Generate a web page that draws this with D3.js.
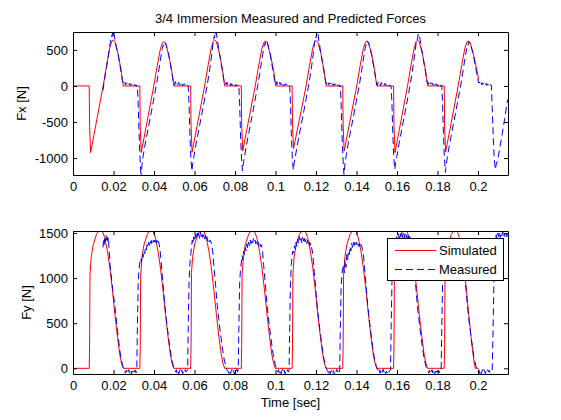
<!DOCTYPE html>
<html>
<head>
<meta charset="utf-8">
<script src="https://cdn.jsdelivr.net/npm/d3@7"></script>
<style>
body { margin: 0; background: #fff; }
text { font-family: "Liberation Sans", Arial, Helvetica, sans-serif; }
</style>
</head>
<body>
<div class="fig"></div>
<script>
// tick values and legend labels
var timeTicks = [0, 0.02, 0.04, 0.06, 0.08, 0.1, 0.12, 0.14, 0.16, 0.18, 0.2]
var fxTicks = [-1000, -500, 0, 500]
var fyTicks = [0, 500, 1000, 1500]
var seriesNames = ["Simulated", "Measured"]

// [time (s), force (N)]
var fxSimulated = [
  [0,0],[0.0080,0],[0.0082,-560],[0.0087,-925],[0.0149,0],[0.0166,285],[0.0182,535],[0.0192,622],[0.0199,639],[0.0207,615],[0.0223,440],[0.0237,225],[0.0248,0],
  [0.0330,0],[0.0332,-560],[0.0337,-925],[0.0399,0],[0.0416,280],[0.0432,520],[0.0442,600],[0.0449,616],[0.0457,594],[0.0473,428],[0.0487,218],[0.0498,0],
  [0.0581,0],[0.0583,-555],[0.0588,-920],[0.0650,0],[0.0667,285],[0.0683,535],[0.0693,622],[0.0700,640],[0.0708,616],[0.0724,440],[0.0738,225],[0.0749,0],
  [0.0831,0],[0.0833,-545],[0.0838,-903],[0.0900,0],[0.0917,282],[0.0933,522],[0.0943,606],[0.0951,625],[0.0959,602],[0.0975,432],[0.0990,222],[0.1001,0],
  [0.1082,0],[0.1084,-530],[0.1089,-870],[0.1151,0],[0.1168,285],[0.1184,528],[0.1194,612],[0.1201,630],[0.1209,608],[0.1225,436],[0.1239,222],[0.1250,0],
  [0.1332,0],[0.1334,-545],[0.1339,-903],[0.1401,0],[0.1418,282],[0.1434,522],[0.1444,607],[0.1451,625],[0.1459,602],[0.1475,432],[0.1489,220],[0.1500,0],
  [0.1583,0],[0.1585,-560],[0.1590,-925],[0.1652,0],[0.1669,285],[0.1685,530],[0.1695,617],[0.1702,635],[0.1710,611],[0.1726,438],[0.1740,224],[0.1751,0],
  [0.1833,0],[0.1835,-555],[0.1840,-917],[0.1902,0],[0.1919,282],[0.1935,522],[0.1945,607],[0.1953,625],[0.1961,602],[0.1978,430],[0.1992,250],[0.2003,90]
]

var fxMeasured = [
  [0.0148,-60],[0.0153,40],[0.0159,150],[0.0166,270],[0.0173,400],[0.0179,510],[0.0184,600],[0.0188,660],[0.0191,700],[0.0193,680],[0.0195,735],[0.0197,715],[0.0199,750],[0.0201,712],[0.0204,690],[0.0209,615],[0.0215,525],[0.0223,430],[0.0231,300],[0.0238,185],[0.0243,90],
  [0.0247,55],[0.0251,20],[0.0255,50],[0.0259,15],[0.0263,45],[0.0267,25],[0.0271,40],[0.0275,10],[0.0279,35],[0.0283,5],[0.0287,30],[0.0291,15],[0.0295,25],[0.0299,-5],[0.0303,20],[0.0307,0],[0.0311,15],[0.0315,-10],[0.0318,0],
  [0.0322,-250],[0.0326,-650],[0.0331,-1000],[0.0336,-1290],[0.0340,-1110],[0.0346,-980],[0.0353,-860],[0.0363,-710],[0.0374,-550],[0.0386,-375],[0.0398,-195],[0.0411,0],[0.0421,170],[0.0429,320],[0.0436,440],[0.0441,520],[0.0445,565],[0.0448,555],[0.0451,605],[0.0454,585],[0.0457,598],[0.0461,560],[0.0467,500],[0.0473,425],[0.0481,300],[0.0488,190],[0.0494,80],
  [0.0497,45],[0.0501,10],[0.0505,60],[0.0509,25],[0.0513,35],[0.0517,5],[0.0521,50],[0.0525,20],[0.0529,30],[0.0533,10],[0.0537,40],[0.0541,0],[0.0545,25],[0.0549,15],[0.0553,30],[0.0557,-5],[0.0561,10],[0.0565,5],[0.0569,-5],
  [0.0573,-250],[0.0577,-650],[0.0582,-1000],[0.0587,-1180],[0.0591,-1080],[0.0597,-980],[0.0604,-860],[0.0614,-710],[0.0625,-550],[0.0637,-375],[0.0649,-195],[0.0662,0],[0.0672,170],[0.0680,330],[0.0687,480],[0.0692,610],[0.0696,680],[0.0699,665],[0.0702,745],[0.0705,720],[0.0708,738],[0.0712,650],[0.0717,560],[0.0724,440],[0.0732,300],[0.0739,190],[0.0745,80],
  [0.0748,55],[0.0752,20],[0.0756,50],[0.0760,15],[0.0764,45],[0.0768,25],[0.0772,40],[0.0776,10],[0.0780,35],[0.0784,5],[0.0788,30],[0.0792,15],[0.0796,25],[0.0800,-5],[0.0804,20],[0.0808,0],[0.0812,15],[0.0816,-10],[0.0819,0],
  [0.0823,-250],[0.0827,-650],[0.0832,-1000],[0.0837,-1180],[0.0841,-1080],[0.0847,-980],[0.0854,-860],[0.0864,-710],[0.0875,-550],[0.0887,-375],[0.0899,-195],[0.0912,0],[0.0922,170],[0.0930,320],[0.0937,440],[0.0942,530],[0.0946,585],[0.0949,575],[0.0952,625],[0.0955,605],[0.0958,615],[0.0962,575],[0.0968,505],[0.0974,432],[0.0982,300],[0.0989,190],[0.0995,80],
  [0.0998,45],[0.1002,10],[0.1006,60],[0.1010,25],[0.1014,35],[0.1018,5],[0.1022,50],[0.1026,20],[0.1030,30],[0.1034,10],[0.1038,40],[0.1042,0],[0.1046,25],[0.1050,15],[0.1054,30],[0.1058,-5],[0.1062,10],[0.1066,5],[0.1070,-5],
  [0.1074,-250],[0.1078,-650],[0.1083,-1000],[0.1088,-1167],[0.1092,-1070],[0.1098,-980],[0.1105,-860],[0.1115,-710],[0.1126,-550],[0.1138,-375],[0.1150,-195],[0.1163,0],[0.1173,170],[0.1181,330],[0.1188,480],[0.1193,610],[0.1197,680],[0.1200,665],[0.1203,740],[0.1206,715],[0.1209,735],[0.1213,650],[0.1218,560],[0.1225,440],[0.1233,300],[0.1240,190],[0.1246,80],
  [0.1249,55],[0.1253,20],[0.1257,50],[0.1261,15],[0.1265,45],[0.1269,25],[0.1273,40],[0.1277,10],[0.1281,35],[0.1285,5],[0.1289,30],[0.1293,15],[0.1297,25],[0.1301,-5],[0.1305,20],[0.1309,0],[0.1313,15],[0.1317,-10],[0.1320,0],
  [0.1324,-250],[0.1328,-650],[0.1333,-1000],[0.1338,-1230],[0.1342,-1100],[0.1348,-980],[0.1355,-860],[0.1365,-710],[0.1376,-550],[0.1388,-375],[0.1400,-195],[0.1413,0],[0.1423,170],[0.1431,320],[0.1438,440],[0.1443,525],[0.1447,580],[0.1450,570],[0.1453,620],[0.1456,600],[0.1459,610],[0.1463,565],[0.1469,500],[0.1475,430],[0.1483,300],[0.1490,190],[0.1496,80],
  [0.1499,45],[0.1503,10],[0.1507,60],[0.1511,25],[0.1515,35],[0.1519,5],[0.1523,50],[0.1527,20],[0.1531,30],[0.1535,10],[0.1539,40],[0.1543,0],[0.1547,25],[0.1551,15],[0.1555,30],[0.1559,-5],[0.1563,10],[0.1567,5],[0.1571,-5],
  [0.1575,-250],[0.1579,-650],[0.1584,-1000],[0.1589,-1160],[0.1593,-1060],[0.1599,-980],[0.1606,-860],[0.1616,-710],[0.1627,-550],[0.1639,-375],[0.1651,-195],[0.1664,0],[0.1674,170],[0.1682,330],[0.1689,470],[0.1694,590],[0.1698,650],[0.1701,640],[0.1704,715],[0.1707,690],[0.1710,705],[0.1714,640],[0.1719,555],[0.1726,438],[0.1734,300],[0.1741,190],[0.1747,80],
  [0.1750,55],[0.1754,20],[0.1758,50],[0.1762,15],[0.1766,45],[0.1770,25],[0.1774,40],[0.1778,10],[0.1782,35],[0.1786,5],[0.1790,30],[0.1794,15],[0.1798,25],[0.1802,-5],[0.1806,20],[0.1810,0],[0.1814,15],[0.1818,-10],[0.1821,0],
  [0.1825,-250],[0.1829,-650],[0.1834,-1000],[0.1839,-1200],[0.1843,-1090],[0.1849,-980],[0.1856,-860],[0.1866,-710],[0.1877,-550],[0.1889,-375],[0.1901,-195],[0.1914,0],[0.1924,170],[0.1932,320],[0.1939,440],[0.1944,520],[0.1948,575],[0.1951,565],[0.1954,615],[0.1957,595],[0.1960,605],[0.1964,565],[0.1970,505],[0.1977,430],[0.1985,305],[0.1993,190],[0.1999,90],[0.2004,40],
  [0.2007,55],[0.2011,20],[0.2015,50],[0.2019,15],[0.2023,45],[0.2027,25],[0.2031,40],[0.2035,10],[0.2039,35],[0.2043,5],[0.2047,30],[0.2051,15],[0.2055,25],[0.2059,-5],[0.2063,20],[0.2066,0],
  [0.2070,-300],[0.2075,-700],[0.2080,-1000],[0.2085,-1160],[0.2090,-1090],[0.2098,-1018],[0.2106,-880],[0.2115,-741],[0.2123,-600],[0.2131,-463],[0.2139,-320],[0.2146,-190]
]

var fySimulated = [
  [0,0],[0.0080,0],[0.0082,260],[0.0084,1040],[0.0090,1230],[0.0100,1373],[0.0116,1484],[0.0126,1522],[0.0136,1535],[0.0146,1515],[0.0157,1447],[0.0170,1300],[0.0182,1114],[0.0195,860],[0.0207,596],[0.0220,340],[0.0231,152],[0.0240,50],[0.0248,0],
  [0.0330,0],[0.0332,250],[0.0334,1003],[0.0340,1220],[0.0350,1365],[0.0366,1480],[0.0376,1520],[0.0386,1533],[0.0396,1513],[0.0407,1445],[0.0420,1298],[0.0432,1112],[0.0445,858],[0.0457,594],[0.0470,338],[0.0481,150],[0.0490,48],[0.0498,0],
  [0.0581,0],[0.0583,260],[0.0585,1060],[0.0591,1240],[0.0601,1378],[0.0617,1486],[0.0627,1523],[0.0637,1536],[0.0647,1516],[0.0658,1448],[0.0671,1301],[0.0683,1115],[0.0696,861],[0.0708,597],[0.0721,341],[0.0732,153],[0.0741,50],[0.0749,0],
  [0.0831,0],[0.0833,255],[0.0835,1040],[0.0841,1230],[0.0851,1372],[0.0867,1483],[0.0877,1521],[0.0887,1534],[0.0897,1514],[0.0908,1446],[0.0921,1299],[0.0933,1113],[0.0946,859],[0.0958,595],[0.0971,339],[0.0982,151],[0.0991,49],[0.0999,0],
  [0.1082,0],[0.1084,260],[0.1086,1050],[0.1092,1235],[0.1102,1375],[0.1118,1485],[0.1128,1522],[0.1138,1535],[0.1148,1515],[0.1159,1447],[0.1172,1300],[0.1184,1114],[0.1197,860],[0.1209,596],[0.1222,340],[0.1233,152],[0.1242,50],[0.1250,0],
  [0.1332,0],[0.1334,255],[0.1336,1020],[0.1342,1225],[0.1352,1370],[0.1368,1482],[0.1378,1521],[0.1388,1534],[0.1398,1514],[0.1409,1446],[0.1422,1299],[0.1434,1113],[0.1447,859],[0.1459,595],[0.1472,339],[0.1483,151],[0.1492,49],[0.1500,0],
  [0.1583,0],[0.1585,260],[0.1587,1045],[0.1593,1232],[0.1603,1374],[0.1619,1484],[0.1629,1522],[0.1639,1535],[0.1649,1515],[0.1660,1447],[0.1673,1300],[0.1685,1114],[0.1698,860],[0.1710,596],[0.1723,340],[0.1734,152],[0.1743,50],[0.1751,0],
  [0.1833,0],[0.1835,260],[0.1837,1040],[0.1843,1230],[0.1853,1373],[0.1868,1484],[0.1878,1522],[0.1888,1535],[0.1898,1515],[0.1908,1447],[0.1920,1300],[0.1931,1114],[0.1943,860],[0.1954,596],[0.1966,340],[0.1976,152],[0.1983,30],[0.1987,0],[0.2003,0]
]

var fyMeasured = [
  [0.0148,1340],[0.0151,1420],[0.0154,1370],[0.0157,1460],[0.0160,1400],[0.0163,1480],[0.0166,1420],[0.0169,1470],[0.0172,1410],[0.0175,1450],[0.0178,1330],[0.0183,1150],[0.0190,1000],[0.0198,840],[0.0207,690],[0.0215,520],[0.0223,350],[0.0231,200],[0.0239,95],[0.0245,30],[0.0250,-10],
  [0.0255,-30],[0.0259,-55],[0.0263,-20],[0.0267,-60],[0.0271,-35],[0.0275,-15],[0.0279,-50],[0.0283,-25],[0.0287,-65],[0.0291,-30],[0.0295,-45],[0.0299,-10],[0.0303,-40],[0.0307,-20],[0.0311,-50],
  [0.0315,-20],[0.0318,450],[0.0322,950],[0.0326,1100],[0.0330,1170],
  [0.0334,1220],[0.0338,1180],[0.0342,1270],[0.0346,1230],[0.0350,1300],[0.0354,1270],[0.0358,1340],[0.0362,1310],[0.0366,1370],[0.0370,1340],[0.0374,1400],[0.0378,1360],[0.0382,1410],[0.0386,1380],[0.0390,1430],[0.0394,1390],[0.0398,1420],[0.0402,1400],[0.0406,1440],[0.0410,1390],[0.0414,1420],[0.0418,1380],[0.0422,1410],[0.0426,1370],
  [0.0432,1270],[0.0438,1100],[0.0442,1003],[0.0447,870],[0.0453,707],[0.0461,540],[0.0470,374],[0.0478,240],[0.0486,115],[0.0496,20],[0.0502,-20],
  [0.0506,-40],[0.0510,-15],[0.0514,-55],[0.0518,-25],[0.0522,-60],[0.0526,-30],[0.0530,-10],[0.0534,-45],[0.0538,-20],[0.0542,-60],[0.0546,-35],[0.0550,-50],[0.0554,-15],[0.0558,-40],[0.0562,-25],
  [0.0566,-20],[0.0569,450],[0.0573,950],[0.0577,1150],[0.0581,1250],
  [0.0585,1340],[0.0589,1420],[0.0593,1380],[0.0597,1460],[0.0601,1410],[0.0605,1480],[0.0609,1430],[0.0613,1500],[0.0617,1450],[0.0621,1490],[0.0625,1440],[0.0629,1510],[0.0633,1460],[0.0637,1500],[0.0641,1450],[0.0645,1480],[0.0649,1430],[0.0653,1470],[0.0657,1420],[0.0661,1460],[0.0665,1410],[0.0669,1440],[0.0673,1400],[0.0677,1420],[0.0681,1400],[0.0685,1380],
  [0.0691,1270],[0.0697,1100],[0.0701,1003],[0.0706,870],[0.0712,707],[0.0720,540],[0.0729,374],[0.0737,240],[0.0745,115],[0.0755,20],[0.0761,-20],
  [0.0765,-30],[0.0769,-55],[0.0773,-20],[0.0777,-60],[0.0781,-35],[0.0785,-15],[0.0789,-50],[0.0793,-25],[0.0797,-65],[0.0801,-30],[0.0805,-45],[0.0809,-10],[0.0813,-40],
  [0.0816,-20],[0.0819,450],[0.0823,950],[0.0827,1100],[0.0831,1170],
  [0.0835,1250],[0.0839,1200],[0.0843,1300],[0.0847,1260],[0.0851,1340],[0.0855,1300],[0.0859,1380],[0.0863,1330],[0.0867,1400],[0.0871,1360],[0.0875,1420],[0.0879,1380],[0.0883,1430],[0.0887,1390],[0.0891,1440],[0.0895,1400],[0.0899,1420],[0.0903,1380],[0.0907,1410],[0.0911,1370],[0.0915,1400],[0.0919,1360],[0.0923,1390],[0.0927,1350],[0.0931,1370],
  [0.0937,1270],[0.0943,1100],[0.0947,1003],[0.0952,870],[0.0958,707],[0.0966,540],[0.0975,374],[0.0983,240],[0.0991,115],[0.1001,20],[0.1007,-20],
  [0.1011,-40],[0.1015,-15],[0.1019,-55],[0.1023,-25],[0.1027,-60],[0.1031,-30],[0.1035,-10],[0.1039,-45],[0.1043,-20],[0.1047,-60],[0.1051,-35],[0.1055,-50],[0.1059,-15],[0.1063,-40],
  [0.1067,-20],[0.1070,450],[0.1074,950],[0.1078,1150],[0.1082,1250],
  [0.1086,1300],[0.1090,1280],[0.1094,1360],[0.1098,1320],[0.1102,1400],[0.1106,1350],[0.1110,1430],[0.1114,1380],[0.1118,1460],[0.1122,1400],[0.1126,1440],[0.1130,1390],[0.1134,1450],[0.1138,1410],[0.1142,1460],[0.1146,1400],[0.1150,1430],[0.1154,1380],[0.1158,1420],[0.1162,1370],[0.1166,1400],[0.1170,1360],[0.1174,1390],[0.1178,1340],
  [0.1184,1270],[0.1190,1100],[0.1194,1003],[0.1199,870],[0.1205,707],[0.1213,540],[0.1222,374],[0.1230,240],[0.1238,115],[0.1248,20],[0.1254,-20],
  [0.1258,-30],[0.1262,-55],[0.1266,-20],[0.1270,-60],[0.1274,-35],[0.1278,-15],[0.1282,-50],[0.1286,-25],[0.1290,-65],[0.1294,-30],[0.1298,-45],[0.1302,-10],[0.1306,-40],[0.1310,-20],[0.1314,-50],
  [0.1317,-20],[0.1320,450],[0.1324,900],[0.1328,1050],[0.1332,1100],
  [0.1336,1150],[0.1340,1060],[0.1344,1200],[0.1348,1120],[0.1352,1260],[0.1356,1200],[0.1360,1300],[0.1364,1260],[0.1368,1350],[0.1372,1300],[0.1376,1390],[0.1380,1340],[0.1384,1400],[0.1388,1360],[0.1392,1410],[0.1396,1370],[0.1400,1400],[0.1404,1360],[0.1408,1390],[0.1412,1350],[0.1416,1380],[0.1420,1340],[0.1424,1370],[0.1428,1330],
  [0.1434,1270],[0.1440,1100],[0.1444,1003],[0.1449,870],[0.1455,707],[0.1463,540],[0.1472,374],[0.1480,240],[0.1488,115],[0.1498,20],[0.1504,-20],
  [0.1508,-40],[0.1512,-15],[0.1516,-55],[0.1520,-25],[0.1524,-60],[0.1528,-30],[0.1532,-10],[0.1536,-45],[0.1540,-20],[0.1544,-60],[0.1548,-35],[0.1552,-50],[0.1556,-15],[0.1560,-40],[0.1564,-25],
  [0.1568,-20],[0.1571,450],[0.1575,950],[0.1579,1200],[0.1583,1300],
  [0.1587,1350],[0.1591,1420],[0.1595,1380],[0.1599,1460],[0.1603,1420],[0.1607,1490],[0.1611,1440],[0.1615,1500],[0.1619,1460],[0.1623,1510],[0.1627,1450],[0.1631,1500],[0.1635,1440],[0.1639,1490],[0.1643,1430],[0.1647,1480],[0.1651,1420],[0.1655,1470],[0.1659,1410],[0.1663,1460],[0.1667,1400],[0.1671,1420],
  [0.1679,1270],[0.1685,1100],[0.1689,1003],[0.1694,870],[0.1700,707],[0.1708,540],[0.1717,374],[0.1725,240],[0.1733,115],[0.1743,20],[0.1749,-20],
  [0.1753,-30],[0.1757,-55],[0.1761,-20],[0.1765,-60],[0.1769,-35],[0.1773,-15],[0.1777,-50],[0.1781,-25],[0.1785,-65],[0.1789,-30],[0.1793,-45],[0.1797,-10],[0.1801,-40],[0.1805,-20],[0.1809,-50],[0.1813,-15],
  [0.1818,-20],[0.1821,450],[0.1825,950],[0.1829,1150],[0.1833,1250],
  [0.1837,1300],[0.1841,1360],[0.1845,1330],[0.1849,1400],[0.1853,1360],[0.1857,1430],[0.1861,1380],[0.1865,1450],[0.1869,1400],[0.1873,1460],[0.1877,1410],[0.1881,1450],[0.1885,1400],[0.1889,1440],[0.1893,1390],[0.1897,1430],[0.1901,1380],[0.1905,1420],[0.1909,1370],[0.1913,1410],[0.1917,1360],[0.1921,1380],
  [0.1926,1270],[0.1932,1100],[0.1936,1003],[0.1941,870],[0.1947,707],[0.1955,540],[0.1964,374],[0.1972,240],[0.1980,115],[0.1990,20],[0.1996,-20],
  [0.2000,-40],[0.2004,-15],[0.2008,-55],[0.2012,-25],[0.2016,-60],[0.2020,-30],[0.2024,-10],[0.2028,-45],[0.2032,-20],[0.2036,-60],[0.2040,-35],[0.2044,-50],[0.2048,-15],[0.2052,-40],[0.2056,-25],[0.2060,-50],[0.2064,-20],
  [0.2070,-20],[0.2074,400],[0.2078,900],[0.2082,1200],[0.2086,1400],[0.2090,1480],[0.2094,1440],[0.2098,1500],[0.2102,1460],[0.2106,1510],[0.2110,1450],[0.2114,1500],[0.2118,1470],[0.2122,1515],[0.2126,1460],[0.2130,1500],[0.2134,1450],[0.2138,1490],[0.2142,1460],[0.2146,1500]
]

var width = 561
var height = 420
var left = 73, right = 508
var fontFamily = '"Liberation Sans", Arial, Helvetica, sans-serif'

var svg = d3.select(".fig").append("svg")
    .attr("width", width)
    .attr("height", height)

svg.append("rect").attr("width", width).attr("height", height).attr("fill", "#fff")

var x = d3.scaleLinear().domain([0, 0.2148]).range([left, right])
var fmt = function(d){ return String(d) }

function styleAxis(g){
  g.attr("font-family", fontFamily).attr("font-size", 13)
  g.selectAll(".tick text").attr("fill", "#000")
  g.selectAll("line, path").attr("stroke", "#000")
}

function drawPanel(top, bottom, yDomain, yTicks, sim, meas, label, labelX, id){
  var y = d3.scaleLinear().domain(yDomain).range([bottom, top])
  var line = d3.line()
      .x(function(d){ return x(d[0]) })
      .y(function(d){ return y(d[1]) })

  svg.append("defs").append("clipPath")
      .attr("id", id)
    .append("rect")
      .attr("x", left)
      .attr("y", top)
      .attr("width", right - left)
      .attr("height", bottom - top)

  var plot = svg.append("g").attr("clip-path", "url(#" + id + ")")

  plot.append("path")
      .datum(sim)
      .attr("d", line)
      .attr("fill", "none")
      .attr("stroke", "#ff0000")
      .attr("stroke-width", 1)

  plot.append("path")
      .datum(meas)
      .attr("d", line)
      .attr("fill", "none")
      .attr("stroke", "#0000ff")
      .attr("stroke-width", 1)
      .attr("stroke-dasharray", "7,4")

  // box with inward ticks on every side, labels only bottom/left
  svg.append("g")
      .attr("transform", "translate(0," + bottom + ")")
      .call(d3.axisBottom(x).tickValues(timeTicks).tickFormat(fmt).tickSizeInner(-4).tickSizeOuter(0).tickPadding(7))
      .call(styleAxis)

  svg.append("g")
      .attr("transform", "translate(0," + top + ")")
      .call(d3.axisTop(x).tickValues(timeTicks).tickFormat("").tickSizeInner(-4).tickSizeOuter(0))
      .call(styleAxis)

  svg.append("g")
      .attr("transform", "translate(" + left + ",0)")
      .call(d3.axisLeft(y).tickValues(yTicks).tickFormat(fmt).tickSizeInner(-4).tickSizeOuter(0).tickPadding(5))
      .call(styleAxis)

  svg.append("g")
      .attr("transform", "translate(" + right + ",0)")
      .call(d3.axisRight(y).tickValues(yTicks).tickFormat("").tickSizeInner(-4).tickSizeOuter(0))
      .call(styleAxis)

  svg.append("text")
      .attr("transform", "translate(" + labelX + "," + ((top + bottom) / 2) + ") rotate(-90)")
      .attr("text-anchor", "middle")
      .attr("font-family", fontFamily)
      .attr("font-size", 13)
      .text(label)

  return y
}

drawPanel(32, 175, [-1235, 748], fxTicks, fxSimulated, fxMeasured, "Fx [N]", 26, "clipFx")
drawPanel(231, 374, [-63, 1522], fyTicks, fySimulated, fyMeasured, "Fy [N]", 31, "clipFy")

svg.append("text")
    .attr("x", (left + right) / 2)
    .attr("y", 22.5)
    .attr("text-anchor", "middle")
    .attr("font-family", fontFamily)
    .attr("font-size", 13)
    .text("3/4 Immersion Measured and Predicted Forces")

svg.append("text")
    .attr("x", (left + right) / 2)
    .attr("y", 407)
    .attr("text-anchor", "middle")
    .attr("font-family", fontFamily)
    .attr("font-size", 13)
    .text("Time [sec]")

// legend
var legend = svg.append("g")
legend.append("rect")
    .attr("x", 387.5).attr("y", 238.5)
    .attr("width", 116).attr("height", 42)
    .attr("fill", "#fff").attr("stroke", "#000")

var legendStyles = [
  {color: "#ff0000", dash: null},
  {color: "#0000ff", dash: "7,4"}
]
seriesNames.forEach(function(name, i){
  var yy = 250.5 + i * 19
  legend.append("line")
      .attr("x1", 395).attr("x2", 436)
      .attr("y1", yy).attr("y2", yy)
      .attr("stroke", legendStyles[i].color)
      .attr("stroke-dasharray", legendStyles[i].dash)
  legend.append("text")
      .attr("x", 439)
      .attr("y", yy + 4.5)
      .attr("font-family", fontFamily)
      .attr("font-size", 13)
      .text(name)
})
</script>
</body>
</html>
